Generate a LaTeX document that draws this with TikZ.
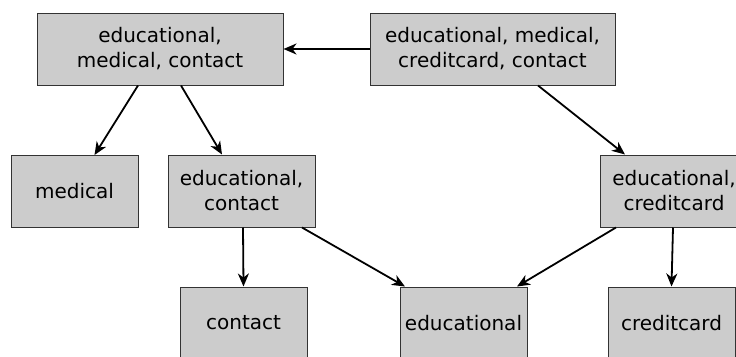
\documentclass[tikz,border=0pt]{standalone}
\usepackage{fontspec}
\setmainfont{DejaVu Sans}
\usepackage{tikz}
\usetikzlibrary{arrows.meta}

\tikzset{
	set/.style={draw=black!80, fill=black!20, line width=1pt, align=center,
		minimum height=72pt, inner sep=0pt, font=\fontsize{20}{25}\selectfont},
	sub/.style={-{Stealth[length=13pt,width=11pt,inset=4pt]}, line width=1.8pt}
}

\begin{document}
\begin{tikzpicture}[x=1pt,y=-1pt]
\useasboundingbox (0,0) rectangle (736,356);
\node[set, minimum width=246pt] (emc) at (160,49) {educational,\\medical, contact};
\node[set, minimum width=245pt] (emcc) at (492.5,49) {educational, medical,\\creditcard, contact};
\node[set, minimum width=127pt] (m) at (74.5,191.5) {medical};
\node[set, minimum width=147pt] (ec) at (241.5,191) {educational,\\contact};
\node[set, minimum width=147pt] (ecc) at (674,191) {educational,\\creditcard};
\node[set, minimum width=127pt] (c) at (243.5,323) {contact};
\node[set, minimum width=127pt] (e) at (463.5,323) {educational};
\node[set, minimum width=127pt] (cc) at (671.5,323) {creditcard};

\draw[sub] (emcc.west) -- (emc.east);
\draw[sub] ([xshift=-22pt]emc.south) -- ([xshift=20pt]m.north);
\draw[sub] ([xshift=21pt]emc.south) -- ([xshift=-19.5pt]ec.north);
\draw[sub] ([xshift=45.5pt]emcc.south) -- ([xshift=-49pt]ecc.north);
\draw[sub] ([xshift=1.5pt]ec.south) -- (c.north);
\draw[sub] ([xshift=60.5pt]ec.south) -- ([xshift=-58.5pt]e.north);
\draw[sub] ([xshift=-58pt]ecc.south) -- ([xshift=53.5pt]e.north);
\draw[sub] ([xshift=-1pt]ecc.south) -- (cc.north);
\end{tikzpicture}
\end{document}
